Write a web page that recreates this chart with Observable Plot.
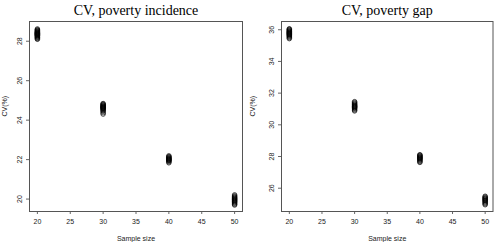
<!DOCTYPE html>
<html>
<head>
<meta charset="utf-8">
<script src="https://cdn.jsdelivr.net/npm/d3@7"></script>
<script src="https://cdn.jsdelivr.net/npm/@observablehq/plot@0.6"></script>
<style>
  html, body { margin: 0; padding: 0; background: #fff; }
  #wrap { position: relative; width: 495px; height: 242px; overflow: hidden; }
  #wrap svg { position: absolute; top: 0; }
</style>
</head>
<body>
<div id="wrap"></div>
<script>
// ---- Data ----
const sampleSizes = [20, 30, 40, 50];
const xTicks = [20, 25, 30, 35, 40, 45, 50];

// CV(%) of poverty incidence by sample size
const incidence20 = [28.10,28.14,28.18,28.21,28.24,28.27,28.29,28.31,28.33,28.35,28.36,28.38,28.40,28.41,28.43,28.45,28.47,28.49,28.52,28.55,28.58,28.62];
const incidence30 = [24.31,24.38,24.45,24.50,24.54,24.57,24.60,24.62,24.64,24.66,24.68,24.70,24.72,24.75,24.78,24.81,24.84];
const incidence40 = [21.84,21.89,21.93,21.96,21.98,22.00,22.02,22.04,22.06,22.09,22.12,22.15,22.19];
const incidence50 = [19.70,19.74,19.79,19.83,19.87,19.90,19.93,19.96,19.99,20.02,20.05,20.08,20.12,20.16,20.21];
const incidenceTicks = [20, 22, 24, 26, 28];

// CV(%) of poverty gap by sample size
const gap20 = [35.44,35.50,35.56,35.61,35.65,35.69,35.72,35.75,35.78,35.81,35.84,35.87,35.90,35.94,35.98,36.02,36.06];
const gap30 = [30.88,30.94,31.00,31.05,31.09,31.12,31.15,31.18,31.21,31.25,31.29,31.34,31.40,31.46];
const gap40 = [27.63,27.68,27.74,27.79,27.83,27.87,27.90,27.93,27.96,28.00,28.04,28.08,28.11];
const gap50 = [24.96,25.02,25.08,25.14,25.19,25.23,25.27,25.31,25.35,25.39,25.44,25.49];
const gapTicks = [26, 28, 30, 32, 34, 36];

const titles = ["CV, poverty incidence", "CV, poverty gap"];
const xLabel = "Sample size";
const yLabel = "CV(%)";

// ---- Build tables ----
function toRows(groups) {
  const rows = [];
  groups.forEach((vals, i) => vals.forEach(v => rows.push({n: sampleSizes[i], cv: v})));
  return rows;
}
const incidenceRows = toRows([incidence20, incidence30, incidence40, incidence50]);
const gapRows = toRows([gap20, gap30, gap40, gap50]);

const sans = "'Liberation Sans', Arial, Helvetica, sans-serif";
const serif = "'Liberation Serif', 'DejaVu Serif', serif";
const ink = "#222";

function panel({rows, yDomain, yTicks, title, marginLeft, marginRight}) {
  return Plot.plot({
    width: 247,
    height: 242,
    marginTop: 21,
    marginBottom: 31,
    marginLeft,
    marginRight,
    style: {fontFamily: sans, fontSize: "7px", color: ink, background: "white"},
    x: {domain: [18.8, 51.2], axis: null},
    y: {domain: yDomain, axis: null},
    marks: [
      Plot.axisX({ticks: xTicks, tickSize: 3, tickPadding: 5, tickFormat: d => String(d), stroke: "#666", fill: ink, fontSize: 7, label: null}),
      Plot.axisY({ticks: yTicks, tickSize: 3, tickFormat: () => "", stroke: "#666", label: null}),
      Plot.text(yTicks, {y: d => d, text: d => String(d), frameAnchor: "left", dx: -10, rotate: -90, textAnchor: "middle", lineAnchor: "middle", fontSize: 7, fill: ink}),
      Plot.frame({stroke: "#555", strokeWidth: 1}),
      Plot.dot(rows, {x: "n", y: "cv", r: 2.3, stroke: "black", strokeWidth: 0.7, fill: "none"}),
      Plot.text([title], {frameAnchor: "top", dy: -10.5, lineAnchor: "middle", text: d => d, fontFamily: serif, fontSize: 14, fill: "black"}),
      Plot.text([xLabel], {frameAnchor: "bottom", dy: 27.5, lineAnchor: "middle", text: d => d, fontSize: 7, fill: ink}),
      Plot.text([yLabel], {frameAnchor: "left", dx: -(marginLeft - 4), rotate: -90, lineAnchor: "middle", text: d => d, fontSize: 7, fill: ink})
    ]
  });
}

const p1 = panel({rows: incidenceRows, yDomain: [19.37, 29.0], yTicks: incidenceTicks, title: titles[0], marginLeft: 29, marginRight: 5});
const p2 = panel({rows: gapRows, yDomain: [24.53, 36.52], yTicks: gapTicks, title: titles[1], marginLeft: 33, marginRight: 2.5});
p1.style.left = "0px";
p2.style.left = "248px";
const wrap = document.getElementById("wrap");
wrap.appendChild(p1);
wrap.appendChild(p2);
</script>
</body>
</html>
